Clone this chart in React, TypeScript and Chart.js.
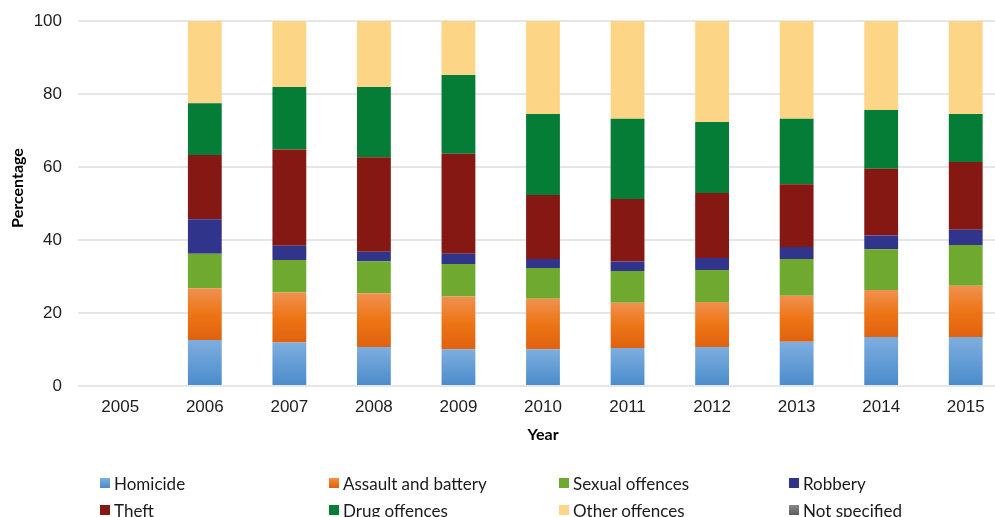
import React, { useEffect, useRef } from "react";
import { Chart, registerables } from "chart.js";

Chart.register(...registerables);

const years = ["2005", "2006", "2007", "2008", "2009", "2010", "2011", "2012", "2013", "2014", "2015"];
const homicide = [null, 12.6, 11.9, 10.7, 10.1, 10.1, 10.4, 10.7, 12.1, 13.4, 13.4];
const assault = [null, 14.2, 13.7, 14.7, 14.4, 13.8, 12.4, 12.3, 12.6, 12.9, 14.1];
const sexual = [null, 9.4, 8.9, 8.8, 8.9, 8.4, 8.7, 8.8, 10.1, 11.2, 11.1];
const robbery = [null, 9.5, 3.9, 2.6, 2.8, 2.5, 2.6, 3.3, 3.3, 3.7, 4.2];
const theft = [null, 17.6, 26.4, 25.9, 27.4, 17.5, 17.1, 17.8, 17.2, 18.3, 18.6];
const drug = [null, 14.2, 17.1, 19.2, 21.6, 22.2, 22.0, 19.4, 17.9, 16.1, 13.1];
const other = [null, 22.5, 18.1, 18.1, 14.8, 25.5, 26.8, 27.7, 26.8, 24.4, 25.5];
const notSpecified = [null, 0, 0, 0, 0, 0, 0, 0, 0, 0, 0];
const yTicks = [0, 20, 40, 60, 80, 100];

type Stops = [number, string][];
const seriesDefs: { label: string; data: (number | null)[]; stops: Stops }[] = [
  { label: "Homicide", data: homicide, stops: [[0, "#7eaedf"], [1, "#4a8bcb"]] },
  { label: "Assault and battery", data: assault, stops: [[0, "#f0914f"], [0.5, "#ed7515"], [1, "#e0610f"]] },
  { label: "Sexual offences", data: sexual, stops: [[0, "#6fa92f"], [1, "#6fa92f"]] },
  { label: "Robbery", data: robbery, stops: [[0, "#30348b"], [1, "#30348b"]] },
  { label: "Theft", data: theft, stops: [[0, "#851812"], [1, "#851812"]] },
  { label: "Drug offences", data: drug, stops: [[0, "#057d36"], [1, "#057d36"]] },
  { label: "Other offences", data: other, stops: [[0, "#fdd587"], [1, "#fdd587"]] },
  { label: "Not specified", data: notSpecified, stops: [[0, "#8a8a8a"], [1, "#5a5a5a"]] },
];

const legendFont = "Lato, 'Liberation Sans', sans-serif";

export default function App() {
  const ref = useRef<HTMLCanvasElement>(null);

  useEffect(() => {
    const canvas = ref.current;
    if (!canvas) return;

    const makeBg = (si: number) => (ctx: any) => {
      const stops = seriesDefs[si].stops;
      const chart = ctx.chart;
      const ys = chart.scales && chart.scales.y;
      if (ctx.type !== "data" || !ys || ys.top === undefined || stops.length < 2 || stops[0][1] === stops[stops.length - 1][1]) {
        return stops[0][1];
      }
      const i = ctx.dataIndex;
      let start = 0;
      for (let k = 0; k < si; k++) start += (seriesDefs[k].data[i] as number) || 0;
      const end = start + ((seriesDefs[si].data[i] as number) || 0);
      const yTop = ys.getPixelForValue(end);
      const yBot = ys.getPixelForValue(start);
      if (!isFinite(yTop) || !isFinite(yBot) || yTop === yBot) return stops[0][1];
      const g = chart.ctx.createLinearGradient(0, yTop, 0, yBot);
      stops.forEach(([o, c]) => g.addColorStop(o, c));
      return g;
    };

    const yTitlePlugin = {
      id: "yTitle",
      afterDraw(chart: any) {
        const c = chart.ctx;
        c.save();
        c.translate(18, 188);
        c.rotate(-Math.PI / 2);
        c.font = "bold 16px " + legendFont;
        c.fillStyle = "#000";
        c.textAlign = "center";
        c.textBaseline = "middle";
        c.fillText("Percentage", 0, 0);
        c.restore();
      },
    };

    const chart = new Chart(canvas, {
      type: "bar",
      data: {
        labels: years,
        datasets: seriesDefs.map((s, si) => ({
          label: s.label,
          data: s.data as any,
          backgroundColor: makeBg(si) as any,
          borderWidth: 0,
          barPercentage: 0.4,
          categoryPercentage: 1,
        })),
      },
      options: {
        responsive: false,
        animation: false,
        events: [],
        layout: { padding: { top: 21, left: 0, right: 0, bottom: 71 } },
        plugins: { legend: { display: false }, tooltip: { enabled: false }, title: { display: false } },
        scales: {
          x: {
            stacked: true,
            grid: { display: false, drawTicks: false },
            border: { display: false },
            ticks: { font: { family: "'Liberation Sans', Arial, sans-serif", size: 17 }, color: "#1e1e1e", padding: 11 },
            title: {
              display: true,
              text: "Year",
              font: { family: legendFont, size: 16, weight: "bold" },
              color: "#000",
              padding: { top: 0, bottom: 2 },
            },
            afterFit: (scale: any) => {
              scale.height = 60;
              scale.paddingLeft = 0;
              scale.paddingRight = 0;
            },
          },
          y: {
            stacked: true,
            min: 0,
            max: 100,
            afterBuildTicks: (scale: any) => {
              scale.ticks = yTicks.map((v) => ({ value: v }));
            },
            grid: { color: "#e6e6e6", lineWidth: 2, drawTicks: false },
            border: { display: false },
            ticks: { font: { family: "'Liberation Sans', Arial, sans-serif", size: 17 }, color: "#1e1e1e", padding: 16 },
            afterFit: (scale: any) => {
              scale.width = 78;
              scale.paddingTop = 0;
              scale.paddingBottom = 0;
            },
          },
        },
      },
      plugins: [yTitlePlugin],
    });
    return () => chart.destroy();
  }, []);

  const colX = [100, 329, 559, 789];
  const rowY = [478, 505];

  return (
    <div style={{ position: "fixed", left: 0, top: 0, width: 995, height: 517, overflow: "hidden", background: "#fff" }}>
      <div style={{ position: "absolute", left: 0, top: 0, width: 1008, height: 517 }}>
        <canvas ref={ref} width={1008} height={517} style={{ width: 1008, height: 517, display: "block" }} />
      </div>
      {seriesDefs.map((s, i) => {
        const col = i % 4;
        const row = Math.floor(i / 4);
        const stops = s.stops;
        const bg = `linear-gradient(to bottom, ${stops.map(([o, c]) => `${c} ${o * 100}%`).join(", ")})`;
        return (
          <div
            key={s.label}
            style={{
              position: "absolute",
              left: colX[col],
              top: rowY[row] - 10,
              height: 30,
              display: "flex",
              alignItems: "center",
              whiteSpace: "nowrap",
              fontFamily: legendFont,
              fontSize: 17,
              color: "#1a1a1a",
            }}
          >
            <span style={{ display: "inline-block", width: 10, height: 10, background: bg, marginRight: 4 }} />
            <span>{s.label}</span>
          </div>
        );
      })}
    </div>
  );
}
